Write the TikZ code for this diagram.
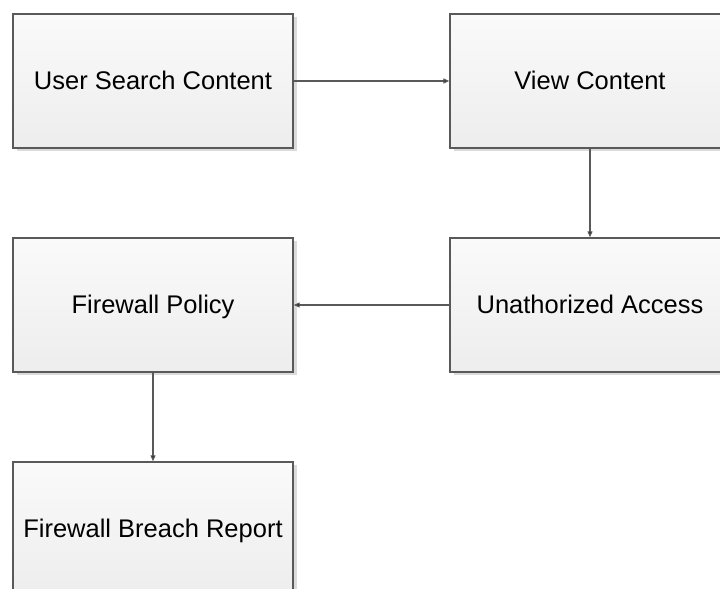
\documentclass[tikz,border=0pt]{standalone}
\usepackage{fontspec}
\setmainfont{Liberation Sans}
\usepackage{tikz}
\usetikzlibrary{positioning,shadows,arrows.meta}

\begin{document}
\begin{tikzpicture}[x=1pt,y=1pt,node distance=224pt and 437pt,on grid,
    procbox/.style={rectangle,draw=black!65,line width=1.4pt,
        minimum width=280pt,minimum height=134pt,
        text height=20pt,text depth=3pt,
        top color=black!2,bottom color=black!7,
        drop shadow={shadow xshift=3.5pt,shadow yshift=-3.5pt,fill=black!14,opacity=1},
        font=\fontsize{25.5}{30}\selectfont},
    flow/.style={draw=black!65,line width=1.2pt,-{Triangle[length=6pt,width=5pt]}}]
           \useasboundingbox (0,0) rectangle (720,589);
           \clip (0,0) rectangle (720,589);
           \node[procbox] (search) at (153,508) {User Search Content};
           \node[procbox] (view) [right=of search] {View Content};
           \node[procbox] (unauth) [below=of view] {Unathorized Access};
           \node[procbox] (policy) [left=of unauth] {Firewall Policy};
           \node[procbox] (breach) [below=of policy] {Firewall Breach Report};
           \path[flow]
            (search) edge (view)
            (view) edge (unauth)
            (unauth) edge (policy)
            (policy) edge (breach);
        \end{tikzpicture}
\end{document}
